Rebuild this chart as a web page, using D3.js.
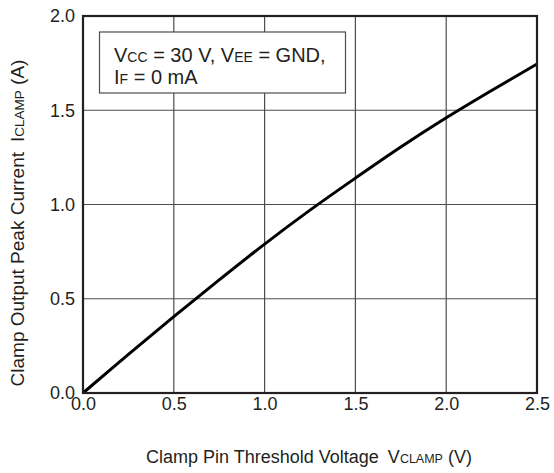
<!DOCTYPE html>
<html><head><meta charset="utf-8">
<script src="https://cdn.jsdelivr.net/npm/d3@7"></script>
<style>body{margin:0;background:#fff}svg{display:block}text{font-family:"Liberation Sans",Arial,sans-serif;fill:#231f20}</style>
</head><body><svg id="c" width="554" height="473"></svg>
<script>
const voltage = [0, 0.25, 0.5, 0.75, 1.0, 1.25, 1.5, 1.75, 2.0, 2.25, 2.5];
const current = [0, 0.205, 0.405, 0.60, 0.79, 0.97, 1.14, 1.305, 1.46, 1.605, 1.745];
const xTicks = [0, 0.5, 1.0, 1.5, 2.0, 2.5];
const yTicks = [0, 0.5, 1.0, 1.5, 2.0];

const svg = d3.select("#c");
const L = 83, R = 537, T = 16, B = 393;
const x = d3.scaleLinear().domain([0, 2.5]).range([L, R]);
const y = d3.scaleLinear().domain([0, 2.0]).range([B, T]);

// grid
svg.append("g").selectAll("line").data(xTicks.slice(1, -1)).join("line")
  .attr("x1", d => x(d)).attr("x2", d => x(d)).attr("y1", T).attr("y2", B)
  .attr("stroke", "#4d4d4d").attr("stroke-width", 1.2);
svg.append("g").selectAll("line").data(yTicks.slice(1, -1)).join("line")
  .attr("y1", d => y(d)).attr("y2", d => y(d)).attr("x1", L).attr("x2", R)
  .attr("stroke", "#4d4d4d").attr("stroke-width", 1.2);

// legend box
const lg = svg.append("g");
lg.append("rect").attr("x", 99.5).attr("y", 32).attr("width", 246).attr("height", 61)
  .attr("fill", "#fff").attr("stroke", "#4d4d4d").attr("stroke-width", 1.2);
const t1 = lg.append("text").attr("x", 114).attr("y", 62).attr("font-size", 20);
t1.append("tspan").text("V");
t1.append("tspan").attr("font-size", 14).text("CC");
t1.append("tspan").text(" = 30 V, V");
t1.append("tspan").attr("font-size", 14).text("EE");
t1.append("tspan").text(" = GND,");
const t2 = lg.append("text").attr("x", 114).attr("y", 84).attr("font-size", 20);
t2.append("tspan").text("I");
t2.append("tspan").attr("font-size", 14).text("F");
t2.append("tspan").text(" = 0 mA");

// curve
svg.append("path").datum(voltage.map((v, i) => [v, current[i]]))
  .attr("fill", "none").attr("stroke", "#000").attr("stroke-width", 3)
  .attr("d", d3.line().x(d => x(d[0])).y(d => y(d[1])).curve(d3.curveCatmullRom));

// frame
svg.append("rect").attr("x", L).attr("y", T).attr("width", R - L).attr("height", B - T)
  .attr("fill", "none").attr("stroke", "#231f20").attr("stroke-width", 2.2);

// axes labels via d3 axes
const xa = svg.append("g").attr("transform", `translate(0,${B})`)
  .call(d3.axisBottom(x).tickValues(xTicks).tickFormat(d3.format(".1f")).tickSize(0).tickPadding(4));
const ya = svg.append("g").attr("transform", `translate(${L},0)`)
  .call(d3.axisLeft(y).tickValues(yTicks).tickFormat(d3.format(".1f")).tickSize(0).tickPadding(8));
[xa, ya].forEach(a => { a.select(".domain").remove(); a.selectAll("text").attr("font-size", 18).attr("font-family", '"Liberation Sans",Arial,sans-serif').attr("fill", "#231f20"); });

// x title
const xt = svg.append("text").attr("x", 309).attr("y", 463).attr("text-anchor", "middle").attr("font-size", 18);
xt.append("tspan").text("Clamp Pin Threshold Voltage");
xt.append("tspan").attr("dx", 9).text("V");
xt.append("tspan").attr("font-size", 12.5).text("CLAMP");
xt.append("tspan").text(" (V)");

// y title
const yt = svg.append("text").attr("transform", "translate(24,223) rotate(-90)").attr("text-anchor", "middle").attr("font-size", 19);
yt.append("tspan").text("Clamp Output Peak Current");
yt.append("tspan").attr("dx", 10).text("I");
yt.append("tspan").attr("font-size", 13.5).text("CLAMP");
yt.append("tspan").text(" (A)");
</script></body></html>
